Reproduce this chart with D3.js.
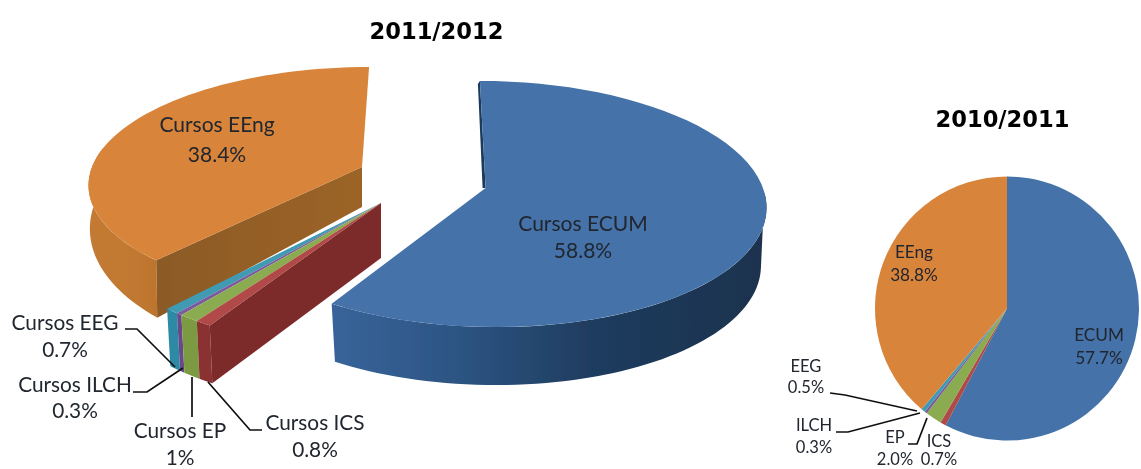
<!DOCTYPE html>
<html><head><meta charset="utf-8">
<script src="https://cdn.jsdelivr.net/npm/d3@7"></script>
<style>html,body{margin:0;padding:0;background:#fff}svg{display:block}
.lbl{font-family:Lato,"Open Sans",sans-serif;fill:#20262e}
.ttl{font-family:"DejaVu Sans",sans-serif;font-weight:bold;font-size:22.6px;fill:#000;text-anchor:middle}
</style></head><body><svg id="c" width="1141" height="469"></svg>
<script>
// ---- data
const names2012 = ["Cursos ECUM","Cursos ICS","Cursos EP","Cursos ILCH","Cursos EEG","Cursos EEng"];
const values2012 = [58.8,0.8,1,0.3,0.7,38.4];
const text2012 = ["58.8%","0.8%","1%","0.3%","0.7%","38.4%"];
const names2011 = ["ECUM","ICS","EP","ILCH","EEG","EEng"];
const values2011 = [57.7,0.7,2.0,0.3,0.5,38.8];
const text2011 = ["57.7%","0.7%","2.0%","0.3%","0.5%","38.8%"];
const titles = ["2011/2012","2010/2011"];
// ---- styles
const topCol = ["#4472a8","#b04a46","#8aab4f","#7a5a9c","#3f9ab2","#d9843b"];
const frontCol = ["url(#gBlue)","#8a3030","#7c9a42","#66488a","#2f8aa4","url(#gOrange)"];
const faceCol = {1:"#7c2a2c",5:"url(#gBrown)"};
const cfg = {
 0:{cx:487,cy:188,rx:276,r:121,rb:121,d:58,f:.98,s:-8,k:.13,au:-.005,rimT:[.435,1],rimL:[.472,1]},
 small:{cx:381,cy:203,rx:290,r:128,rb:131,d:55,f:.985,s:0,k:.13,au:0,rimT:[0,1],rimL:[0,1]},
 5:{cx:362,cy:167,rx:270,r:113,rb:134,d:40,f:.995,s:8,k:.13,au:0,rimT:[0,.42],rimL:[0,.42]}
};
const svg = d3.select("#c");
const defs = svg.append("defs");
function grad(id,stops){const g=defs.append("linearGradient").attr("id",id);
 stops.forEach(([o,c])=>g.append("stop").attr("offset",o).attr("stop-color",c));}
grad("gBlue",[[0,"#38649a"],[.3,"#2c5482"],[.6,"#1f3c5e"],[1,"#1b324e"]]);
grad("gOrange",[[0,"#c27a34"],[.5,"#c27a32"],[1,"#bd752e"]]);
grad("gBrown",[[0,"#8c5a28"],[1,"#9c6428"]]);
const fb=defs.append("filter").attr("id","soft").attr("x","-5%").attr("y","-5%").attr("width","110%").attr("height","110%");
fb.append("feGaussianBlur").attr("stdDeviation",.45);
const root = svg.append("g").attr("filter","url(#soft)");

// ---- projection of the tilted disc
const proj=(c,t,low=false)=>{const u=Math.sin(t),v=Math.cos(t),w=1+c.k*v;
 const rx=low?c.rx*c.f:c.rx,r=low?c.rb:c.r;
 return [c.cx+(rx*u+c.s*v)/w, c.cy+(low?c.d:0)-r*v/w];};
const apex=(c,low=false)=>[c.cx+c.au*c.rx,c.cy+(low?c.d:0)];
const arcPts=(c,a,b,low)=>d3.range(0,61).map(i=>proj(c,a+(b-a)*i/60,low));
const line=d3.line();

const pie=d3.pie().sort(null).value(d=>d);
const arcs3d=pie(values2012);
const cOf=i=>i===0?cfg[0]:i===5?cfg[5]:cfg.small;
// painter order: orange, EEG, ILCH, EP, ICS, blue
[5,4,3,2,1,0].forEach(i=>{
 const a=arcs3d[i],c=cOf(i),g=root.append("g");
 const sw=a.endAngle-a.startAngle,at=f=>a.startAngle+sw*f;
 if(i===0){ // thin visible sliver of the starting wall
  const p=proj(c,a.startAngle),q=apex(c);
  g.append("path").attr("fill","#1c3a5c").attr("d",line([p,q,[q[0]-3,q[1]],[p[0]-2,p[1]+3]])+"Z");
 }
 // rim (only the part that can be seen)
 const top=arcPts(c,a.startAngle,a.endAngle,false);
 const rimTop=arcPts(c,at(c.rimT[0]),at(c.rimT[1]),false),low=arcPts(c,at(c.rimL[0]),at(c.rimL[1]),true);
 g.append("path").attr("fill",frontCol[i]).attr("d",line(rimTop.concat(low.slice().reverse()))+"Z");
 // wall on the start-angle side
 if(i===5||i===1){
  const p=proj(c,a.startAngle),pl=proj(c,a.startAngle,true);
  g.append("path").attr("fill",faceCol[i]).attr("d",line([apex(c),p,pl,apex(c,true)])+"Z");
 }
 g.append("path").attr("fill",topCol[i]).attr("d",line([apex(c)].concat(top))+"Z");
});

// ---- flat pie
const arc2=d3.arc().innerRadius(0).outerRadius(132);
root.append("g").attr("transform","translate(1007,308.5)").selectAll("path").data(pie(values2011)).join("path")
 .attr("d",arc2).attr("fill",(d,i)=>topCol[i]);

// ---- leaders
const leaders=[
 [[125,329],[137,329],[175,367]],[[133,392],[147,392],[183,368]],[[192,377],[192,417]],[[208,382],[250,430],[262,430]],
 [[830,393],[845,395],[917,411]],[[836,432],[848,432],[920,413]],[[908,444],[917,444],[927,418]]];
root.append("g").selectAll("path").data(leaders).join("path").attr("d",d=>line(d))
 .attr("fill","none").attr("stroke","#111").attr("stroke-width",1.7);

// ---- labels: [series, index, centre x, name baseline, value baseline, font size]
const place=[
 [0,5,217,132,162,21],[0,0,583,231,258,21],[0,4,65,330,357,20.8],[0,3,75,392,418,20.8],[0,2,180,438,464.5,20.8],[0,1,315,430,457,20.8],
 [1,5,914,258,281,17.2],[1,0,1099,341,364,17.2],[1,4,806,372,393,16.5],[1,3,814,431,453,16.5],[1,2,895,443,465,16.5],[1,1,939,447,465,16.5]];
place.forEach(([s,i,x,y1,y2,fs])=>{
 const nm=s?names2011:names2012,tx=s?text2011:text2012;
 [[nm[i],y1],[tx[i],y2]].forEach(([t,y])=>root.append("text").attr("class","lbl")
  .attr("x",x).attr("y",y).attr("text-anchor","middle").attr("font-size",fs).text(t));
});
[[titles[0],436.5,39],[titles[1],1002.5,127]].forEach(([t,x,y])=>
 root.append("text").attr("class","ttl").attr("x",x).attr("y",y).text(t));
</script></body></html>
